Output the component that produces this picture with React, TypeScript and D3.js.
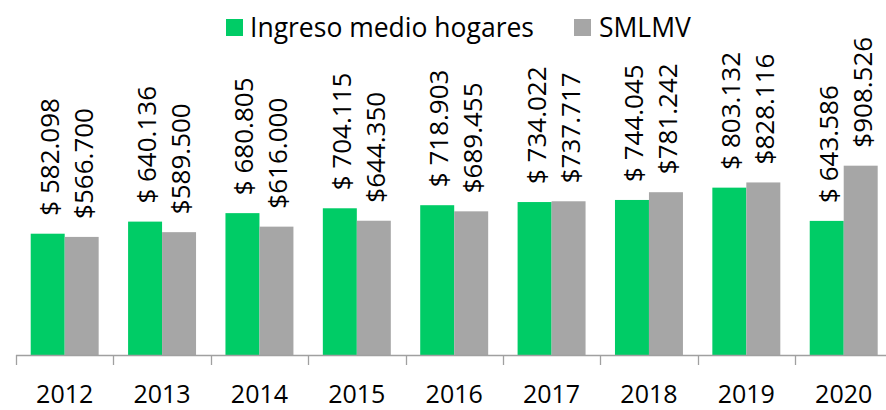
import React from "react";
import * as d3 from "d3";

const years = ["2012", "2013", "2014", "2015", "2016", "2017", "2018", "2019", "2020"];
const ingreso = [582098, 640136, 680805, 704115, 718903, 734022, 744045, 803132, 643586];
const smlmv = [566700, 589500, 616000, 644350, 689455, 737717, 781242, 828116, 908526];
const seriesNames = ["Ingreso medio hogares", "SMLMV"];
const colors = ["#00CC66", "#A6A6A6"];

const W = 886;
const H = 410;
const FONT = "'Open Sans', 'Segoe UI', sans-serif";

const fmtNum = (v: number) => d3.format(",")(v).replace(/,/g, ".");

export default function App() {
  const x = d3.scaleBand<string>().domain(years).range([16, 892.4]).paddingInner(0).paddingOuter(0);
  const y = d3.scaleLinear().domain([0, 1600000]).range([355, 21.6]);
  const bw = x.bandwidth();
  const inset = bw * 0.151;
  const barW = (bw - 2 * inset) / 2;
  const series = [ingreso, smlmv];
  const labels = [(v: number) => "$ " + fmtNum(v), (v: number) => "$" + fmtNum(v)];

  return (
    <svg width={W} height={H} style={{ position: "absolute", left: 0, top: 0, background: "#fff" }}>
      {series.map((vals, si) =>
        vals.map((v, i) => {
          const x0 = (x(years[i]) as number) + inset + si * barW;
          return (
            <rect
              key={`b${si}-${i}`}
              x={x0}
              y={y(v)}
              width={barW}
              height={y(0) - y(v)}
              fill={colors[si]}
            />
          );
        })
      )}
      {series.map((vals, si) =>
        vals.map((v, i) => {
          const cx = (x(years[i]) as number) + inset + si * barW + barW / 2 + 11;
          const ty = y(v) - 18;
          return (
            <text
              key={`l${si}-${i}`}
              transform={`translate(${cx},${ty}) rotate(-90)`}
              fontFamily={FONT}
              fontSize={26}
              fill="#000"
            >
              {labels[si](v)}
            </text>
          );
        })
      )}
      <line x1={16} x2={892.4} y1={355.5} y2={355.5} stroke="#A0A0A0" strokeWidth={1.3} />
      {years.map((yr, i) => {
        const tx = Math.round(x(yr) as number) + 0.5;
        return <line key={`t${i}`} x1={tx} x2={tx} y1={355} y2={365} stroke="#A0A0A0" strokeWidth={1.3} />;
      })}
      {years.map((yr, i) => (
        <text
          key={`y${i}`}
          x={(x(yr) as number) + bw / 2}
          y={403}
          textAnchor="middle"
          fontFamily={FONT}
          fontSize={25}
          fill="#000"
        >
          {yr}
        </text>
      ))}
      <rect x={226} y={19} width={17} height={17} fill={colors[0]} />
      <text x={250} y={37} fontFamily={FONT} fontSize={26.5} fill="#000">
        {seriesNames[0]}
      </text>
      <rect x={574} y={19} width={17} height={17} fill={colors[1]} />
      <text x={599} y={37} fontFamily={FONT} fontSize={26.5} fill="#000">
        {seriesNames[1]}
      </text>
    </svg>
  );
}
